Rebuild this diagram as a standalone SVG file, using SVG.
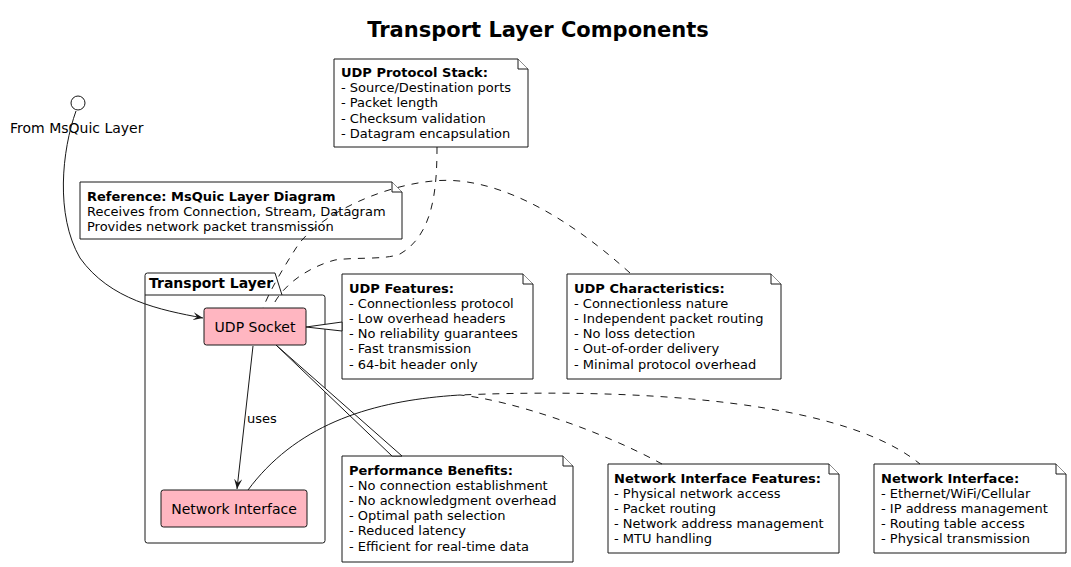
<svg xmlns="http://www.w3.org/2000/svg" width="1071" height="567" viewBox="0 0 1071 567">
<style>
text{font-family:"DejaVu Sans","Liberation Sans",sans-serif;fill:#000}
.t{font-size:13px}
.b{font-weight:bold}
.note{fill:#fff;stroke:#181818;stroke-width:1}
.comp{fill:#FFB6C1;stroke:#181818;stroke-width:1}
.solid{fill:none;stroke:#181818;stroke-width:1}
.dash{fill:none;stroke:#181818;stroke-width:1;stroke-dasharray:7,7}
</style>
<defs>
<marker id="arr" markerWidth="10" markerHeight="8" refX="10" refY="4" orient="auto" markerUnits="userSpaceOnUse">
<path d="M0,0 L10,4 L0,8 L4,4 Z" fill="#181818"/>
</marker>
</defs>
<rect width="1071" height="567" fill="#fff"/>
<text x="538" y="37" text-anchor="middle" class="b" style="font-size:21px">Transport Layer Components</text>

<g id="pkg-transport">
<path d="M147.5,273 L275,273 L282,295 L322.5,295 Q325,295 325,297.5 L325,540.5 Q325,543 322.5,543 L147.5,543 Q145,543 145,540.5 L145,275.5 Q145,273 147.5,273 Z" fill="#fff" stroke="#181818"/>
<path d="M145,295 L282,295" class="solid"/>
<text x="149" y="288" class="b" style="font-size:14px">Transport Layer</text>
</g>

<g id="iface-msquic">
<circle cx="78" cy="103" r="7" fill="#fff" stroke="#181818"/>
<text x="10" y="133" style="font-size:14px">From MsQuic Layer</text>
</g>

<g id="note-protocol-stack">
<path d="M334,59 L518,59 L528,69 L528,147 L334,147 Z" class="note"/>
<path d="M518,59 L518,69 L528,69" class="note"/>
<text class="t"><tspan x="341" y="77" class="b">UDP Protocol Stack:</tspan><tspan x="341" y="92.2">- Source/Destination ports</tspan><tspan x="341" y="107.4">- Packet length</tspan><tspan x="341" y="122.6">- Checksum validation</tspan><tspan x="341" y="137.8">- Datagram encapsulation</tspan></text>
</g>

<g id="note-reference">
<path d="M80,182 L392,182 L402,192 L402,239 L80,239 Z" class="note"/>
<path d="M392,182 L392,192 L402,192" class="note"/>
<text class="t"><tspan x="87" y="200.5" class="b">Reference: MsQuic Layer Diagram</tspan><tspan x="87" y="215.7">Receives from Connection, Stream, Datagram</tspan><tspan x="87" y="230.9">Provides network packet transmission</tspan></text>
</g>

<g id="note-udp-features">
<path d="M342,274 L523,274 L533,284 L533,379 L342,379 Z" class="note"/>
<path d="M523,274 L523,284 L533,284" class="note"/>
<text class="t"><tspan x="349" y="292.5" class="b">UDP Features:</tspan><tspan x="349" y="307.7">- Connectionless protocol</tspan><tspan x="349" y="322.9">- Low overhead headers</tspan><tspan x="349" y="338.1">- No reliability guarantees</tspan><tspan x="349" y="353.3">- Fast transmission</tspan><tspan x="349" y="368.5">- 64-bit header only</tspan></text>
</g>

<g id="note-udp-characteristics">
<path d="M567,274 L771,274 L781,284 L781,379 L567,379 Z" class="note"/>
<path d="M771,274 L771,284 L781,284" class="note"/>
<text class="t"><tspan x="574" y="292.5" class="b">UDP Characteristics:</tspan><tspan x="574" y="307.7">- Connectionless nature</tspan><tspan x="574" y="322.9">- Independent packet routing</tspan><tspan x="574" y="338.1">- No loss detection</tspan><tspan x="574" y="353.3">- Out-of-order delivery</tspan><tspan x="574" y="368.5">- Minimal protocol overhead</tspan></text>
</g>

<g id="note-performance">
<path d="M342,456 L563,456 L573,466 L573,562 L342,562 Z" class="note"/>
<path d="M563,456 L563,466 L573,466" class="note"/>
<text class="t"><tspan x="349" y="474.5" class="b">Performance Benefits:</tspan><tspan x="349" y="489.7">- No connection establishment</tspan><tspan x="349" y="504.9">- No acknowledgment overhead</tspan><tspan x="349" y="520.1">- Optimal path selection</tspan><tspan x="349" y="535.3">- Reduced latency</tspan><tspan x="349" y="550.5">- Efficient for real-time data</tspan></text>
</g>

<g id="note-ni-features">
<path d="M608,464 L829,464 L839,474 L839,553 L608,553 Z" class="note"/>
<path d="M829,464 L829,474 L839,474" class="note"/>
<text class="t"><tspan x="614" y="482.5" class="b">Network Interface Features:</tspan><tspan x="614" y="497.7">- Physical network access</tspan><tspan x="614" y="512.9">- Packet routing</tspan><tspan x="614" y="528.1">- Network address management</tspan><tspan x="614" y="543.3">- MTU handling</tspan></text>
</g>

<g id="note-ni">
<path d="M874,464 L1056,464 L1066,474 L1066,553 L874,553 Z" class="note"/>
<path d="M1056,464 L1056,474 L1066,474" class="note"/>
<text class="t"><tspan x="881" y="482.5" class="b">Network Interface:</tspan><tspan x="881" y="497.7">- Ethernet/WiFi/Cellular</tspan><tspan x="881" y="512.9">- IP address management</tspan><tspan x="881" y="528.1">- Routing table access</tspan><tspan x="881" y="543.3">- Physical transmission</tspan></text>
</g>

<g id="connectors">
<path d="M76,111 C62,150 55,215 80,258 C110,300 160,310 203,318" class="solid" marker-end="url(#arr)"/>
<path d="M253,346 L237,489" class="solid" marker-end="url(#arr)"/>
<text x="247" y="423" class="t">uses</text>
<path d="M306,327 L342,322 L342,331 Z" fill="#fff" stroke="#181818"/>
<path d="M276,345 L392,456 L402,456 Z" fill="#fff" stroke="#181818"/>
<path d="M437,147 C437,190 433,235 400,254 C385,260 355,257 335,260 C305,268 280,288 272,308" class="dash"/>
<path d="M630,273 C560,210 490,175 433,181 C380,186 320,215 298,245 C285,265 270,290 263,308" class="dash"/>
<path d="M248,490 C300,420 380,400 460,395 C510,400 600,430 662,464" class="dash"/>
<path d="M248,490 C300,420 380,400 460,395 C580,390 830,390 920,464" class="dash" stroke-dashoffset="7"/>
</g>

<g id="udp-socket">
<rect x="204" y="308" width="102" height="37" rx="2.5" class="comp"/>
<text x="255" y="332" text-anchor="middle" style="font-size:14px">UDP Socket</text>
</g>

<g id="network-interface">
<rect x="161" y="490" width="146" height="37" rx="2.5" class="comp"/>
<text x="234" y="514" text-anchor="middle" style="font-size:14px">Network Interface</text>
</g>
</svg>
